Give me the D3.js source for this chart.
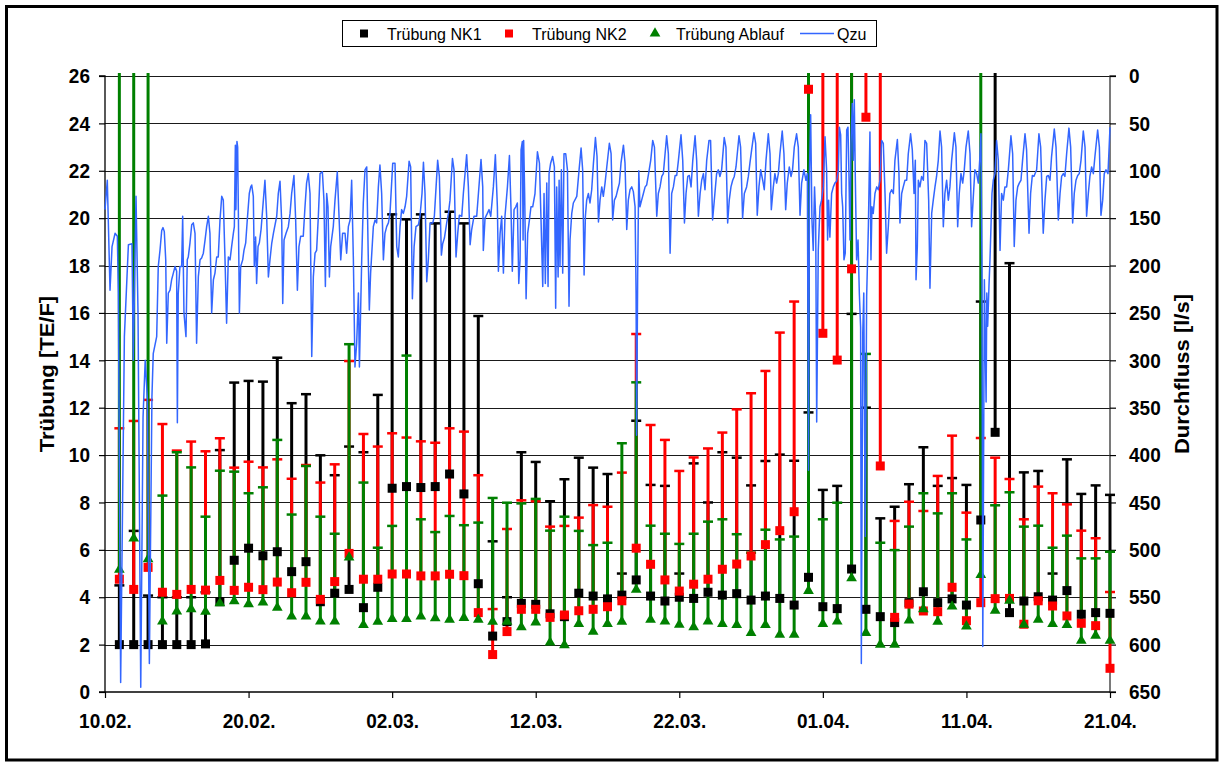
<!DOCTYPE html>
<html>
<head>
<meta charset="utf-8">
<script src="https://cdn.jsdelivr.net/npm/d3@7"></script>
<style>
  html, body { margin: 0; padding: 0; background: #fff; }
  svg { display: block; font-family: "Liberation Sans", Arial, Helvetica, sans-serif; }
</style>
</head>
<body>
<svg id="chart" width="1219" height="763"></svg>
<script>
// Daily turbidity readings from 11.02. to 21.04. (one value per day) and the
// upper end of each day's range (values above 26 run off the top of the plot).
const nk1    = [2.0,2.0,2.0,2.0,2.0,2.0,2.03,3.81,5.56,6.07,5.75,5.92,5.08,5.5,3.81,4.17,4.33,3.56,4.42,8.6,
                8.67,8.63,8.67,9.2,8.36,4.57,2.36,2.97,3.74,3.7,3.3,3.18,4.17,4.05,3.93,4.09,4.73,4.05,3.84,4.0,
                3.95,4.21,4.09,4.15,3.88,4.05,3.95,3.67,4.84,3.6,3.52,5.19,3.49,3.18,2.93,3.77,4.23,3.77,3.93,3.67,
                7.26,10.96,3.35,3.84,4.02,3.88,4.28,3.28,3.35,3.32];
const nk1Max = [4.5,6.8,4.07,4.0,4.0,4.0,4.21,10.21,13.06,13.13,13.1,14.11,12.19,12.57,9.99,9.15,10.36,10.12,12.54,20.16,
                19.95,20.16,19.78,20.27,19.78,15.87,6.36,4.0,10.12,9.71,8.05,8.98,9.89,9.47,9.2,5.0,11.45,8.74,8.7,5.0,
                9.65,8.0,10.12,9.89,8.72,9.75,10.02,9.76,11.8,8.53,8.7,15.96,12.0,7.33,7.82,8.77,10.33,8.7,9.03,8.74,
                16.48,30,18.1,9.27,9.33,5.0,9.82,8.36,8.72,8.32];
const nk2    = [4.76,4.33,5.26,4.21,4.12,4.33,4.3,4.71,4.29,4.42,4.32,4.64,4.19,4.63,3.91,4.66,5.85,4.76,4.76,4.98,
                4.98,4.9,4.9,4.97,4.91,3.35,1.58,2.55,3.49,3.49,3.15,3.25,3.43,3.49,3.6,3.85,6.07,5.39,4.73,4.26,
                4.55,4.76,5.18,5.4,5.74,6.22,6.81,7.61,25.44,15.14,14.01,17.86,24.26,9.54,3.15,3.71,3.42,3.39,4.42,3.01,
                3.77,3.94,3.95,2.86,3.85,3.63,3.21,2.9,2.8,1.0];
const nk2Max = [11.13,11.44,12.33,11.31,10.19,10.57,10.16,10.71,9.47,9.72,9.48,9.82,9.0,9.58,8.84,9.61,13.97,10.89,10.36,10.92,
                10.74,10.58,10.52,11.13,10.99,9.15,3.5,6.88,8.09,8.05,6.98,7.01,7.36,7.89,7.82,9.26,15.11,11.27,10.64,9.33,
                9.9,10.28,10.95,11.93,12.61,13.55,15.17,16.48,30,30,30,30,30,30,7.22,8.03,7.64,9.12,10.82,7.57,
                10.72,9.89,8.99,7.29,8.67,8.39,7.92,6.81,6.49,4.22];
const ablauf    = [5.12,6.44,5.57,2.94,3.36,3.46,3.35,3.71,3.79,3.67,3.74,3.52,3.15,3.15,2.94,2.94,5.64,2.79,2.93,3.04,
                   3.04,3.15,3.07,3.01,3.09,3.01,2.93,2.93,2.69,2.9,2.05,1.94,2.83,2.5,2.83,2.93,4.28,3.01,2.94,2.8,
                   2.69,2.94,2.83,2.79,2.45,2.79,2.38,2.38,4.23,2.83,2.94,4.76,2.45,1.96,1.96,2.98,3.46,2.93,3.57,2.73,
                   4.9,3.39,3.81,2.8,3.01,2.83,2.79,2.12,2.34,2.12];
const ablaufMax = [30,30,30,8.29,10.12,9.48,7.4,9.34,9.3,8.39,8.64,10.64,7.49,9.54,7.4,6.68,14.68,8.84,6.09,7.01,
                   14.2,7.29,6.75,7.43,7.04,7.15,8.19,7.99,7.96,8.15,6.81,7.4,6.8,6.2,6.3,10.5,13.07,7.02,6.68,6.25,
                   6.68,7.19,7.29,6.66,5.88,6.85,6.44,6.56,30,7.29,7.99,30,14.27,6.3,5.99,6.98,8.39,7.54,8.39,6.44,
                   30,7.88,8.43,6.98,7.02,6.09,6.6,5.64,5.64,5.92];

// Inflow Qzu [l/s]: [days after 10.02. 00:00, flow]
const qzu = [
[0.00,141],[0.16,110],[0.35,226],[0.49,180],[0.70,166],[0.86,169],[0.93,229],[1.09,640],[1.35,275],[1.63,178],[1.88,177],[1.97,300],[2.16,127],[2.30,250],[2.49,645],[2.65,360],[2.80,300],[2.95,340],[3.09,620],[3.27,338],[3.36,293],[3.60,275],[3.71,201],[3.83,184],[3.95,163],[4.04,160],[4.13,164],[4.23,194],[4.30,282],[4.41,229],[4.53,226],[4.64,215],[4.76,208],[4.88,201],[4.99,206],[5.04,366],[5.10,230],[5.22,201],[5.34,201],[5.41,148],[5.50,250],[5.64,275],[5.73,194],[5.80,191],[5.92,176],[6.04,157],[6.15,155],[6.27,166],[6.38,282],[6.50,212],[6.62,194],[6.73,192],[6.85,187],[6.97,173],[7.08,159],[7.20,148],[7.31,166],[7.43,250],[7.55,215],[7.66,208],[7.78,191],[7.89,191],[8.01,152],[8.13,127],[8.24,131],[8.36,194],[8.47,261],[8.59,191],[8.71,194],[8.82,180],[8.94,166],[9.01,159],[9.08,73],[9.12,141],[9.19,69],[9.24,75],[9.29,145],[9.36,250],[9.45,201],[9.59,194],[9.68,184],[9.80,176],[9.91,152],[10.05,124],[10.15,117],[10.22,115],[10.33,127],[10.40,201],[10.49,170],[10.56,219],[10.66,180],[10.75,176],[10.87,162],[11.03,131],[11.14,110],[11.26,148],[11.38,212],[11.49,194],[11.61,177],[11.73,166],[11.96,148],[12.07,124],[12.19,111],[12.31,155],[12.38,240],[12.47,173],[12.61,166],[12.77,159],[12.89,145],[13.00,124],[13.16,105],[13.28,152],[13.40,226],[13.51,180],[13.63,169],[13.81,169],[13.93,138],[14.04,113],[14.16,103],[14.28,124],[14.40,296],[14.51,212],[14.63,187],[14.74,184],[14.86,148],[14.98,103],[15.14,101],[15.25,131],[15.35,222],[15.44,124],[15.53,138],[15.63,212],[15.72,180],[15.90,159],[16.02,131],[16.18,101],[16.30,148],[16.42,194],[16.55,166],[16.72,166],[16.83,187],[16.95,159],[17.07,152],[17.18,110],[17.30,194],[17.41,307],[17.53,282],[17.65,229],[17.72,307],[17.88,194],[17.99,134],[18.11,99],[18.23,96],[18.34,194],[18.41,247],[18.50,208],[18.69,159],[18.81,152],[18.92,155],[19.04,117],[19.15,94],[19.27,124],[19.39,194],[19.50,166],[19.62,159],[19.74,155],[19.85,145],[20.04,92],[20.20,92],[20.32,180],[20.43,191],[20.55,159],[20.66,141],[20.78,145],[20.90,138],[21.01,127],
[21.18,90],[21.29,96],[21.41,235],[21.53,180],[21.66,159],[21.83,157],[21.94,148],[22.08,124],[22.18,91],[22.29,124],[22.41,217],[22.52,194],[22.64,155],[22.83,155],[22.94,148],[23.06,117],[23.17,89],[23.29,106],[23.43,189],[23.52,177],[23.64,171],[23.80,155],[23.92,145],[24.03,131],[24.20,87],[24.31,99],[24.45,191],[24.57,166],[24.68,147],[24.85,148],[24.96,124],[25.19,83],[25.31,117],[25.43,178],[25.54,162],[25.70,148],[25.89,148],[26.01,124],[26.19,88],[26.31,117],[26.35,184],[26.47,150],[26.63,145],[26.75,141],[26.87,148],[27.05,117],[27.19,83],[27.33,138],[27.40,206],[27.52,166],[27.63,148],[27.75,208],[27.86,148],[28.03,117],[28.17,84],[28.28,141],[28.37,206],[28.49,141],[28.61,138],[28.72,134],[28.82,219],[28.91,194],[28.98,78],[29.07,69],[29.12,173],[29.16,68],[29.23,124],[29.33,235],[29.44,166],[29.56,152],[29.67,138],[29.79,138],[29.95,124],[30.12,80],[30.26,92],[30.37,152],[30.49,222],[30.58,124],[30.67,219],[30.77,113],[30.86,222],[30.93,103],[31.04,92],[31.18,85],[31.30,96],[31.39,245],[31.46,117],[31.56,212],[31.63,110],[31.69,201],[31.79,99],[31.88,208],[31.97,82],[32.09,82],[32.21,99],[32.32,243],[32.39,173],[32.51,145],[32.62,134],[32.86,127],[33.02,99],[33.16,76],[33.27,99],[33.37,210],[33.46,148],[33.55,131],[33.67,124],[33.78,134],[33.90,120],[34.02,92],[34.16,65],[34.27,85],[34.37,154],[34.48,131],[34.60,117],[34.71,127],[34.83,113],[34.95,96],[35.13,71],[35.25,82],[35.36,152],[35.48,131],[35.60,127],[35.71,120],[35.83,113],[35.94,92],[36.11,73],[36.22,92],[36.34,162],[36.45,131],[36.57,120],[36.69,117],[36.80,122],[36.92,138],[36.99,229],[37.03,379],[37.10,212],[37.18,100],[37.26,138],[37.38,131],[37.50,124],[37.62,117],[37.73,115],[37.85,104],[38.01,89],[38.15,68],[38.27,75],[38.43,148],[38.54,124],[38.66,117],[38.78,106],[38.89,103],[39.01,82],[39.12,63],[39.24,82],[39.36,187],[39.47,124],[39.59,117],[39.71,105],[39.82,105],[39.94,89],[40.12,62],[40.24,89],[40.36,155],[40.47,124],[40.59,106],[40.70,105],[40.82,117],[40.94,89],[41.10,63],[41.21,89],[41.33,148],[41.45,124],[41.56,110],[41.68,103],[41.79,120],[41.91,89],
[42.07,68],[42.18,68],[42.32,152],[42.48,124],[42.60,103],[42.72,99],[42.83,106],[42.95,99],[43.13,65],[43.25,75],[43.37,155],[43.48,131],[43.60,117],[43.72,110],[43.83,106],[43.95,96],[44.16,63],[44.27,75],[44.41,150],[44.53,124],[44.69,117],[44.81,106],[44.92,92],[45.04,78],[45.20,60],[45.32,71],[45.43,147],[45.55,117],[45.67,99],[45.81,110],[45.92,120],[46.04,89],[46.20,61],[46.32,82],[46.41,141],[46.55,117],[46.66,103],[46.78,113],[46.90,103],[47.01,82],[47.17,58],[47.29,82],[47.41,141],[47.52,113],[47.66,96],[47.78,106],[47.89,99],[48.01,75],[48.17,61],[48.29,75],[48.41,147],[48.52,113],[48.68,99],[48.82,110],[48.92,103],[49.00,416],[49.07,100],[49.15,41],[49.24,152],[49.33,184],[49.42,117],[49.50,150],[49.57,365],[49.68,184],[49.80,138],[49.91,131],[50.03,117],[50.15,64],[50.26,99],[50.33,173],[50.40,131],[50.49,170],[50.61,124],[50.73,117],[50.84,113],[50.96,111],[51.08,99],[51.15,54],[51.24,62],[51.31,124],[51.38,138],[51.47,194],[51.56,187],[51.66,57],[51.75,54],[51.82,106],[51.89,173],[51.96,71],[52.05,29],[52.12,89],[52.19,25],[52.26,106],[52.35,194],[52.45,173],[52.54,229],[52.63,265],[52.68,620],[52.78,271],[52.85,229],[52.95,486],[53.05,233],[53.17,159],[53.28,59],[53.35,194],[53.42,138],[53.51,145],[53.63,124],[53.75,117],[53.86,120],[53.98,110],[54.09,68],[54.21,71],[54.33,124],[54.44,187],[54.56,159],[54.67,124],[54.79,120],[54.91,124],[55.02,89],[55.19,67],[55.30,103],[55.37,155],[55.49,124],[55.60,117],[55.72,110],[55.84,110],[55.95,82],[56.11,61],[56.23,78],[56.35,124],[56.44,89],[56.49,215],[56.58,180],[56.65,110],[56.76,117],[56.88,106],[57.00,110],[57.11,68],[57.23,71],[57.37,131],[57.46,224],[57.58,145],[57.69,131],[57.81,117],[57.92,106],[58.04,89],[58.16,58],[58.27,75],[58.39,159],[58.50,124],[58.62,110],[58.74,131],[58.85,117],[58.97,89],[59.16,60],[59.27,75],[59.39,159],[59.50,124],[59.62,103],[59.74,113],[59.85,99],[59.97,75],[60.13,58],[60.25,82],[60.36,159],[60.48,127],[60.59,99],[60.71,103],[60.83,113],[60.94,85],[61.01,61],[61.08,194],[61.14,602],[61.25,215],[61.37,344],[61.42,229],[61.48,264],[61.57,222],[61.64,194],[61.71,159],[61.78,124],[61.87,110],[61.99,103],[62.10,68],[62.22,89],[62.34,184],[62.45,124],[62.57,131],[62.68,117],[62.80,117],[62.92,99],[63.10,63],[63.22,82],[63.33,180],[63.45,131],[63.57,117],[63.68,113],[63.80,110],[63.91,89],[64.08,61],[64.19,78],[64.36,166],[64.47,124],[64.59,105],[64.70,106],[64.89,99],[65.05,61],[65.17,75],[65.35,166],[65.47,131],[65.59,106],[65.70,105],[65.82,110],[65.93,85],[66.12,56],[66.24,75],[66.40,152],[66.52,124],[66.63,106],[66.75,103],[66.86,106],[66.98,82],[67.14,55],[67.26,75],[67.40,155],[67.51,124],[67.63,110],[67.75,105],[67.86,103],[67.98,89],[68.14,58],[68.26,75],[68.37,148],[68.49,124],[68.60,106],[68.72,96],[68.84,103],[68.95,85],[69.14,57],[69.26,75],[69.37,147],[69.49,131],[69.60,103],[69.72,99],[69.86,103],[70.00,54]
];

// Axis ticks
const turbTicks = [0,2,4,6,8,10,12,14,16,18,20,22,24,26];
const flowTicks = [0,50,100,150,200,250,300,350,400,450,500,550,600,650];
const dateTickLabels = ["10.02.","20.02.","02.03.","12.03.","22.03.","01.04.","11.04.","21.04."];

const DAY = 864e5;
const t0 = Date.UTC(2009, 1, 10);
const parseTick = s => { const [dd, mm] = s.split("."); return new Date(Date.UTC(2009, +mm - 1, +dd)); };
const dateTicks = dateTickLabels.map(parseTick);
const dayDates = nk1.map((_, i) => new Date(t0 + (i + 1) * DAY));

const plot = { left: 105, right: 1110, top: 76, bottom: 692 };

const x  = d3.scaleUtc().domain([dateTicks[0], dateTicks[dateTicks.length - 1]]).range([plot.left, plot.right]);
const yL = d3.scaleLinear().domain([0, 26]).range([plot.bottom, plot.top]);
const yR = d3.scaleLinear().domain([0, 650]).range([plot.top, plot.bottom]);

const svg = d3.select("#chart");
svg.append("rect").attr("width", 1219).attr("height", 763).attr("fill", "#fff");

// clip everything to the plot height
svg.append("defs").append("clipPath").attr("id", "plotClip")
  .append("rect").attr("x", 0).attr("y", plot.top - 3).attr("width", 1219).attr("height", plot.bottom - plot.top + 4);

// horizontal grid lines
svg.append("g").selectAll("line").data(turbTicks.filter(v => v > 0)).join("line")
  .attr("x1", plot.left).attr("x2", plot.right)
  .attr("y1", d => Math.round(yL(d)) + 0.5).attr("y2", d => Math.round(yL(d)) + 0.5)
  .attr("stroke", "#1a1a1a").attr("stroke-width", 1);

const fontTick = "bold 19px 'Liberation Sans', Arial, sans-serif";

// left axis
const axL = svg.append("g").attr("transform", `translate(${plot.left},0)`)
  .call(d3.axisLeft(yL).tickValues(turbTicks).tickSize(6).tickPadding(9).tickFormat(d3.format("d")));
// right axis
const axR = svg.append("g").attr("transform", `translate(${plot.right},0)`)
  .call(d3.axisRight(yR).tickValues(flowTicks).tickSize(6).tickPadding(13).tickFormat(d3.format("d")));
// bottom axis
const axB = svg.append("g").attr("transform", `translate(0,${plot.bottom})`)
  .call(d3.axisBottom(x).tickValues(dateTicks).tickSize(6).tickPadding(13).tickFormat((d, i) => dateTickLabels[i]));

[axL, axR, axB].forEach(a => {
  a.select(".domain").attr("stroke", "#000").attr("stroke-width", 1.3);
  a.selectAll(".tick line").attr("stroke", "#000").attr("stroke-width", 1.2);
  a.selectAll("text").style("font", fontTick).attr("fill", "#000")
    .attr("transform", "scale(1,1.1)");
});
axL.select(".domain").attr("d", `M-6,${plot.top}H0V${plot.bottom}H-6`);
axR.select(".domain").attr("d", `M6,${plot.top}H0V${plot.bottom}H6`).attr("stroke", "#333");
axB.select(".domain").attr("d", `M${plot.left},0H${plot.right}`);

// axis titles
const fontTitle = "bold 20px 'Liberation Sans', Arial, sans-serif";
svg.append("text").attr("transform", `translate(47,374) rotate(-90) scale(1.1,1)`)
  .attr("text-anchor", "middle").attr("dy", "0.35em")
  .style("font", fontTitle).text("Trübung [TE/F]");
svg.append("text").attr("transform", `translate(1182,374) rotate(-90) scale(1.1,1)`)
  .attr("text-anchor", "middle").attr("dy", "0.35em")
  .style("font", fontTitle).text("Durchfluss [l/s]");

const series = [
  { name: "Trübung NK1",    vals: nk1,    top: nk1Max,    color: "#000000", shape: "square" },
  { name: "Trübung NK2",    vals: nk2,    top: nk2Max,    color: "#ff0000", shape: "square" },
  { name: "Trübung Ablauf", vals: ablauf, top: ablaufMax, color: "#008000", shape: "triangle" }
];

const marks = svg.append("g").attr("clip-path", "url(#plotClip)");

// range bars with caps
series.forEach(s => {
  const g = marks.append("g");
  const rows = s.vals.map((v, i) => ({ d: dayDates[i], v, t: s.top[i] }));
  g.selectAll("line.bar").data(rows).join("line").attr("class", "bar")
    .attr("x1", r => x(r.d)).attr("x2", r => x(r.d))
    .attr("y1", r => yL(r.v)).attr("y2", r => yL(Math.min(r.t, 27)))
    .attr("stroke", s.color).attr("stroke-width", 3);
  g.selectAll("line.cap").data(rows.filter(r => r.t <= 26)).join("line").attr("class", "cap")
    .attr("x1", r => x(r.d) - 5).attr("x2", r => x(r.d) + 5)
    .attr("y1", r => yL(r.t)).attr("y2", r => yL(r.t))
    .attr("stroke", s.color).attr("stroke-width", 2.5);
});

// markers
const triangle = d3.symbol().type(d3.symbolTriangle).size(50);
series.forEach(s => {
  const rows = s.vals.map((v, i) => ({ d: dayDates[i], v }));
  if (s.shape === "square") {
    marks.append("g").selectAll("rect").data(rows).join("rect")
      .attr("x", r => x(r.d) - 4.5).attr("y", r => yL(r.v) - 4.5)
      .attr("width", 9).attr("height", 9).attr("fill", s.color);
  } else {
    marks.append("g").selectAll("path").data(rows).join("path")
      .attr("transform", r => `translate(${x(r.d)},${yL(r.v) - 1})`)
      .attr("d", triangle).attr("fill", s.color);
  }
});

// inflow line on the secondary axis
const flowLine = d3.line()
  .x(p => x(new Date(t0 + p[0] * DAY)))
  .y(p => yR(p[1]));
marks.append("path").datum(qzu).attr("d", flowLine)
  .attr("fill", "none").attr("stroke", "#3366ff").attr("stroke-width", 1.5).attr("stroke-linejoin", "round");

// legend
const lg = svg.append("g");
lg.append("rect").attr("x", 342.5).attr("y", 20.5).attr("width", 534).attr("height", 26)
  .attr("fill", "#fff").attr("stroke", "#000").attr("stroke-width", 1);
const fontLegend = "16px 'Liberation Sans', Arial, sans-serif";
const legendItems = [
  { label: "Trübung NK1",    sx: 364, tx: 387, kind: "square",   color: "#000000" },
  { label: "Trübung NK2",    sx: 509, tx: 532, kind: "square",   color: "#ff0000" },
  { label: "Trübung Ablauf", sx: 655, tx: 676, kind: "triangle", color: "#008000" },
  { label: "Qzu",            sx: 817, tx: 837, kind: "line",     color: "#3366ff" }
];
legendItems.forEach(it => {
  if (it.kind === "square") {
    lg.append("rect").attr("x", it.sx - 4).attr("y", 29.5).attr("width", 8).attr("height", 8).attr("fill", it.color);
  } else if (it.kind === "triangle") {
    lg.append("path").attr("transform", `translate(${it.sx},33.5)`).attr("d", triangle).attr("fill", it.color);
  } else {
    lg.append("line").attr("x1", 800).attr("x2", 834).attr("y1", 33.5).attr("y2", 33.5)
      .attr("stroke", it.color).attr("stroke-width", 1.5);
  }
  lg.append("text").attr("x", it.tx).attr("y", 39.5).style("font", fontLegend).text(it.label);
});

// outer frame
svg.append("rect").attr("x", 6.5).attr("y", 6.5).attr("width", 1210.5).attr("height", 753.5)
  .attr("fill", "none").attr("stroke", "#000").attr("stroke-width", 3);
</script>
</body>
</html>
